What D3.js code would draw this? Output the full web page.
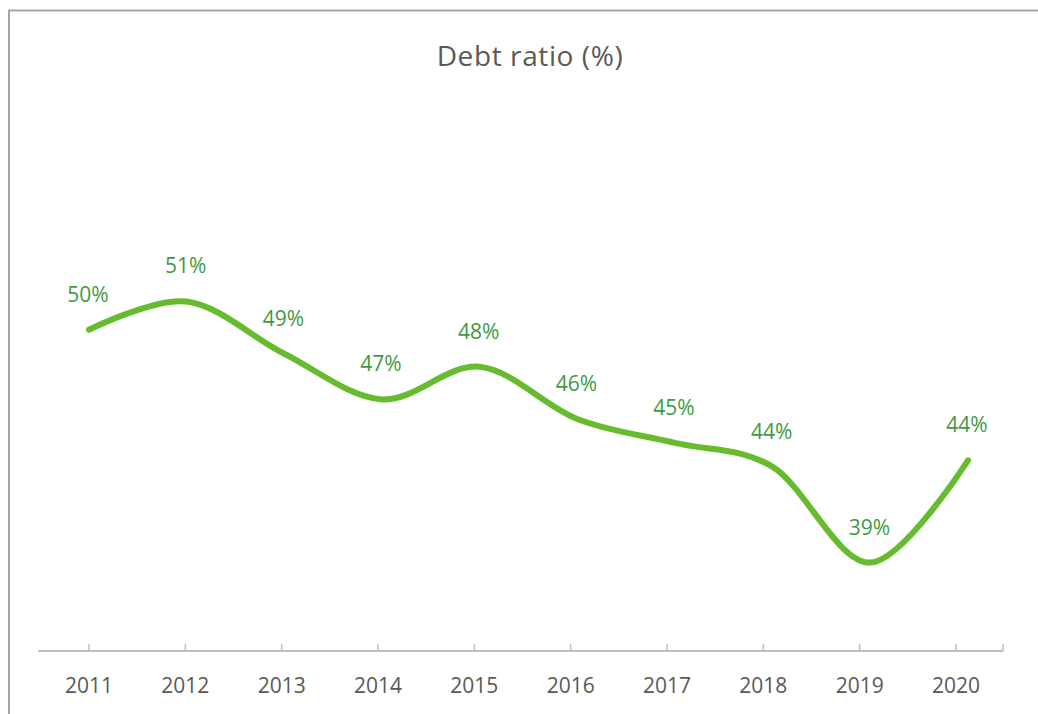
<!DOCTYPE html>
<html>
<head>
<meta charset="utf-8">
<script src="https://cdn.jsdelivr.net/npm/d3@7"></script>
<style>
  html, body { margin: 0; padding: 0; background: #fff; }
  svg { display: block; }
  text { font-family: "Open Sans", sans-serif; }
</style>
</head>
<body>
<div id="chart"></div>
<script>
// data
const years = ["2011", "2012", "2013", "2014", "2015", "2016", "2017", "2018", "2019", "2020"];
const debtRatio = [49.9, 51.2, 48.8, 46.7, 48.2, 45.8, 44.7, 43.6, 39.2, 43.9];
const title = "Debt ratio (%)";

const width = 1038, height = 714;

const svg = d3.select("#chart")
  .append("svg")
  .attr("width", width)
  .attr("height", height);

// chart frame (only top/left edges show in the crop)
svg.append("rect")
  .attr("x", 9)
  .attr("y", 10.5)
  .attr("width", width + 20)
  .attr("height", height + 20)
  .attr("fill", "none")
  .attr("stroke", "#a6a6a6")
  .attr("stroke-width", 2);

svg.append("text")
  .attr("x", 530)
  .attr("y", 66)
  .attr("text-anchor", "middle")
  .attr("fill", "#595959")
  .style("font-size", "28px")
  .style("letter-spacing", "0.6px")
  .text(title);

// the line sits slightly wider than the axis labels in the reference
const xLine = d3.scalePoint().domain(years).range([89, 968]);
const xAxis = d3.scalePoint().domain(years).range([89, 956]);
const y = d3.scaleLinear().domain([35, 60]).range([654, 110]);

const axisY = 651;

// category axis
const axisG = svg.append("g").attr("transform", `translate(0,${axisY})`);
axisG.append("line")
  .attr("x1", 38).attr("x2", 1003)
  .attr("stroke", "#bfbfbf")
  .attr("stroke-width", 2);

const tickXs = years.map(d => xAxis(d)).concat([1003]);
axisG.selectAll(".tick")
  .data(tickXs)
  .join("line")
  .attr("class", "tick")
  .attr("x1", d => d).attr("x2", d => d)
  .attr("y1", 0).attr("y2", -7)
  .attr("stroke", "#bfbfbf")
  .attr("stroke-width", 1.5);

axisG.selectAll(".lbl")
  .data(years)
  .join("text")
  .attr("class", "lbl")
  .attr("x", d => xAxis(d))
  .attr("y", 42)
  .attr("text-anchor", "middle")
  .attr("fill", "#595959")
  .style("font-size", "21px")
  .text(d => d);

// smoothed line
const line = d3.line()
  .x((d, i) => xLine(years[i]))
  .y(d => y(d))
  .curve(d3.curveCatmullRom.alpha(0));

svg.append("path")
  .datum(debtRatio)
  .attr("d", line)
  .attr("fill", "none")
  .attr("stroke", "#67bb2e")
  .attr("stroke-width", 6)
  .attr("stroke-linecap", "round")
  .attr("stroke-linejoin", "round");

// data labels
svg.append("g")
  .selectAll("text")
  .data(debtRatio)
  .join("text")
  .attr("x", (d, i) => xLine(years[i]) - 1)
  .attr("y", d => y(d) - 28)
  .attr("text-anchor", "middle")
  .attr("fill", "#3f9a45")
  .style("font-size", "21px")
  .text(d => Math.round(d) + "%");
</script>
</body>
</html>
